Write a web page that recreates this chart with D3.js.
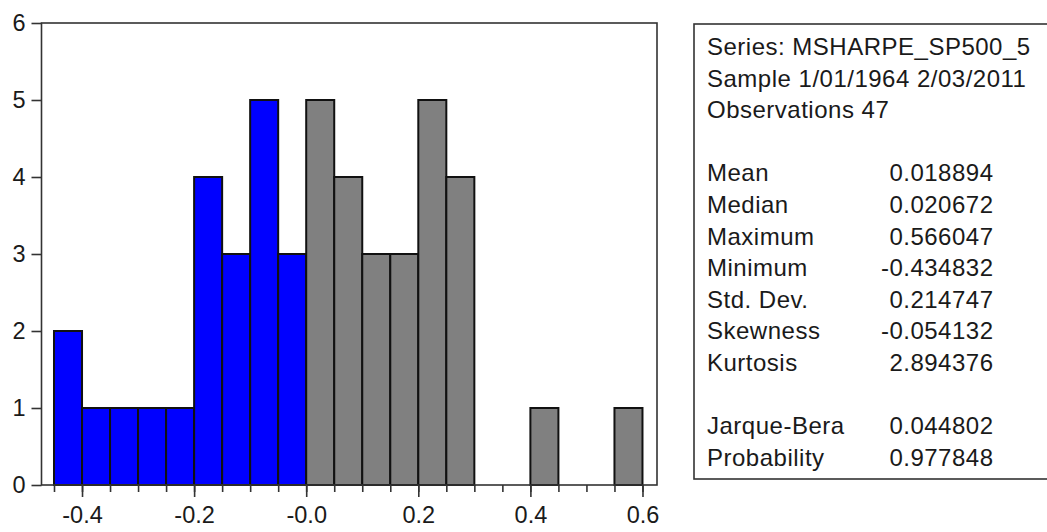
<!DOCTYPE html>
<html>
<head>
<meta charset="utf-8">
<script src="https://cdn.jsdelivr.net/npm/d3@7/dist/d3.min.js"></script>
<style>
  html, body { margin: 0; padding: 0; background: #fff; }
  svg { display: block; font-family: "Liberation Sans", Arial, sans-serif; }
</style>
</head>
<body>
<svg id="chart" width="1047" height="532"></svg>
<script>
// Histogram bins (lower edges, width 0.05) and counts
const binStarts = [-0.45, -0.40, -0.35, -0.30, -0.25, -0.20, -0.15, -0.10, -0.05,
                    0.00,  0.05,  0.10,  0.15,  0.20,  0.25,  0.30,  0.35,  0.40,
                    0.45,  0.50,  0.55];
const binCounts = [2, 1, 1, 1, 1, 4, 3, 5, 3,
                   5, 4, 3, 3, 5, 4, 0, 0, 1,
                   0, 0, 1];
const binWidth = 0.05;

// Axis ticks
const xMajorTicks = [-0.4, -0.2, 0.0, 0.2, 0.4, 0.6];
const xMajorLabels = ["-0.4", "-0.2", "-0.0", "0.2", "0.4", "0.6"];
const xMinorTicks = d3.range(-0.45, 0.6001, 0.05).map(v => +v.toFixed(2));
const yTicks = [0, 1, 2, 3, 4, 5, 6];

// Descriptive statistics panel
const headerLines = ["Series: MSHARPE_SP500_5", "Sample 1/01/1964 2/03/2011", "Observations 47"];
const statNames = ["Mean", "Median", "Maximum", "Minimum", "Std. Dev.", "Skewness", "Kurtosis", "", "Jarque-Bera", "Probability"];
const statValues = ["0.018894", "0.020672", "0.566047", "-0.434832", "0.214747", "-0.054132", "2.894376", "", "0.044802", "0.977848"];

const svg = d3.select("#chart");
const plot = { left: 41.5, right: 657, top: 23, bottom: 485 };

const x = d3.scaleLinear().domain([-0.4723, 0.6259]).range([plot.left, plot.right]);
const y = d3.scaleLinear().domain([0, 6]).range([plot.bottom, plot.top]);

const FONT = 24;
const AXIS_FONT = 23.5;
const ink = "#1a1a1a";

// Bars
svg.append("g")
  .selectAll("rect")
  .data(binStarts.map((s, i) => ({ s, c: binCounts[i] })).filter(d => d.c > 0))
  .join("rect")
  .attr("x", d => x(d.s))
  .attr("y", d => y(d.c))
  .attr("width", d => x(d.s + binWidth) - x(d.s))
  .attr("height", d => y(0) - y(d.c))
  .attr("fill", d => d.s < 0 ? "#0000ff" : "#808080")
  .attr("stroke", "#111")
  .attr("stroke-width", 2);

// Plot frame
svg.append("rect")
  .attr("x", plot.left).attr("y", plot.top)
  .attr("width", plot.right - plot.left).attr("height", plot.bottom - plot.top)
  .attr("fill", "none").attr("stroke", "#333").attr("stroke-width", 1.6);

// Y axis
const yAxis = svg.append("g")
  .attr("transform", `translate(${plot.left},0)`)
  .call(d3.axisLeft(y).tickValues(yTicks).tickFormat(d3.format("d")).tickSize(10).tickPadding(6));
yAxis.select(".domain").remove();
yAxis.selectAll(".tick line").attr("stroke", "#333").attr("stroke-width", 1.6);
yAxis.selectAll(".tick text").attr("font-size", AXIS_FONT).attr("fill", ink)
  .attr("font-family", "Liberation Sans, Arial, sans-serif").attr("dy", "0.3em");

// X axis: minor ticks
const xMinor = svg.append("g")
  .attr("transform", `translate(0,${plot.bottom})`)
  .call(d3.axisBottom(x).tickValues(xMinorTicks).tickFormat("").tickSize(7));
xMinor.select(".domain").remove();
xMinor.selectAll(".tick line").attr("stroke", "#333").attr("stroke-width", 1.6);

// X axis: major ticks with labels
const xMajor = svg.append("g")
  .attr("transform", `translate(0,${plot.bottom})`)
  .call(d3.axisBottom(x).tickValues(xMajorTicks)
    .tickFormat((d, i) => xMajorLabels[i]).tickSize(12).tickPadding(9));
xMajor.select(".domain").remove();
xMajor.selectAll(".tick line").attr("stroke", "#333").attr("stroke-width", 1.6);
xMajor.selectAll(".tick text").attr("font-size", AXIS_FONT).attr("fill", ink)
  .attr("font-family", "Liberation Sans, Arial, sans-serif");

// Statistics box
const box = svg.append("g");
box.append("rect")
  .attr("x", 694).attr("y", 24).attr("width", 370).attr("height", 455)
  .attr("fill", "#fff").attr("stroke", "#333").attr("stroke-width", 1.6);

const lineH = 31.6, firstBase = 55, textX = 707, valX = 993.5;
const spacing = "0.5px";
box.selectAll("text.hdr")
  .data(headerLines)
  .join("text")
  .attr("class", "hdr")
  .attr("x", textX).attr("y", (d, i) => firstBase + i * lineH)
  .attr("font-size", FONT).attr("fill", ink)
  .style("letter-spacing", spacing)
  .text(d => d);

box.selectAll("text.name")
  .data(statNames)
  .join("text")
  .attr("class", "name")
  .attr("x", textX).attr("y", (d, i) => firstBase + (i + 4) * lineH)
  .attr("font-size", FONT).attr("fill", ink)
  .style("letter-spacing", spacing)
  .text(d => d);

box.selectAll("text.val")
  .data(statValues)
  .join("text")
  .attr("class", "val")
  .attr("x", valX).attr("y", (d, i) => firstBase + (i + 4) * lineH)
  .attr("text-anchor", "end")
  .attr("font-size", FONT).attr("fill", ink)
  .style("letter-spacing", spacing)
  .text(d => d);
</script>
</body>
</html>
